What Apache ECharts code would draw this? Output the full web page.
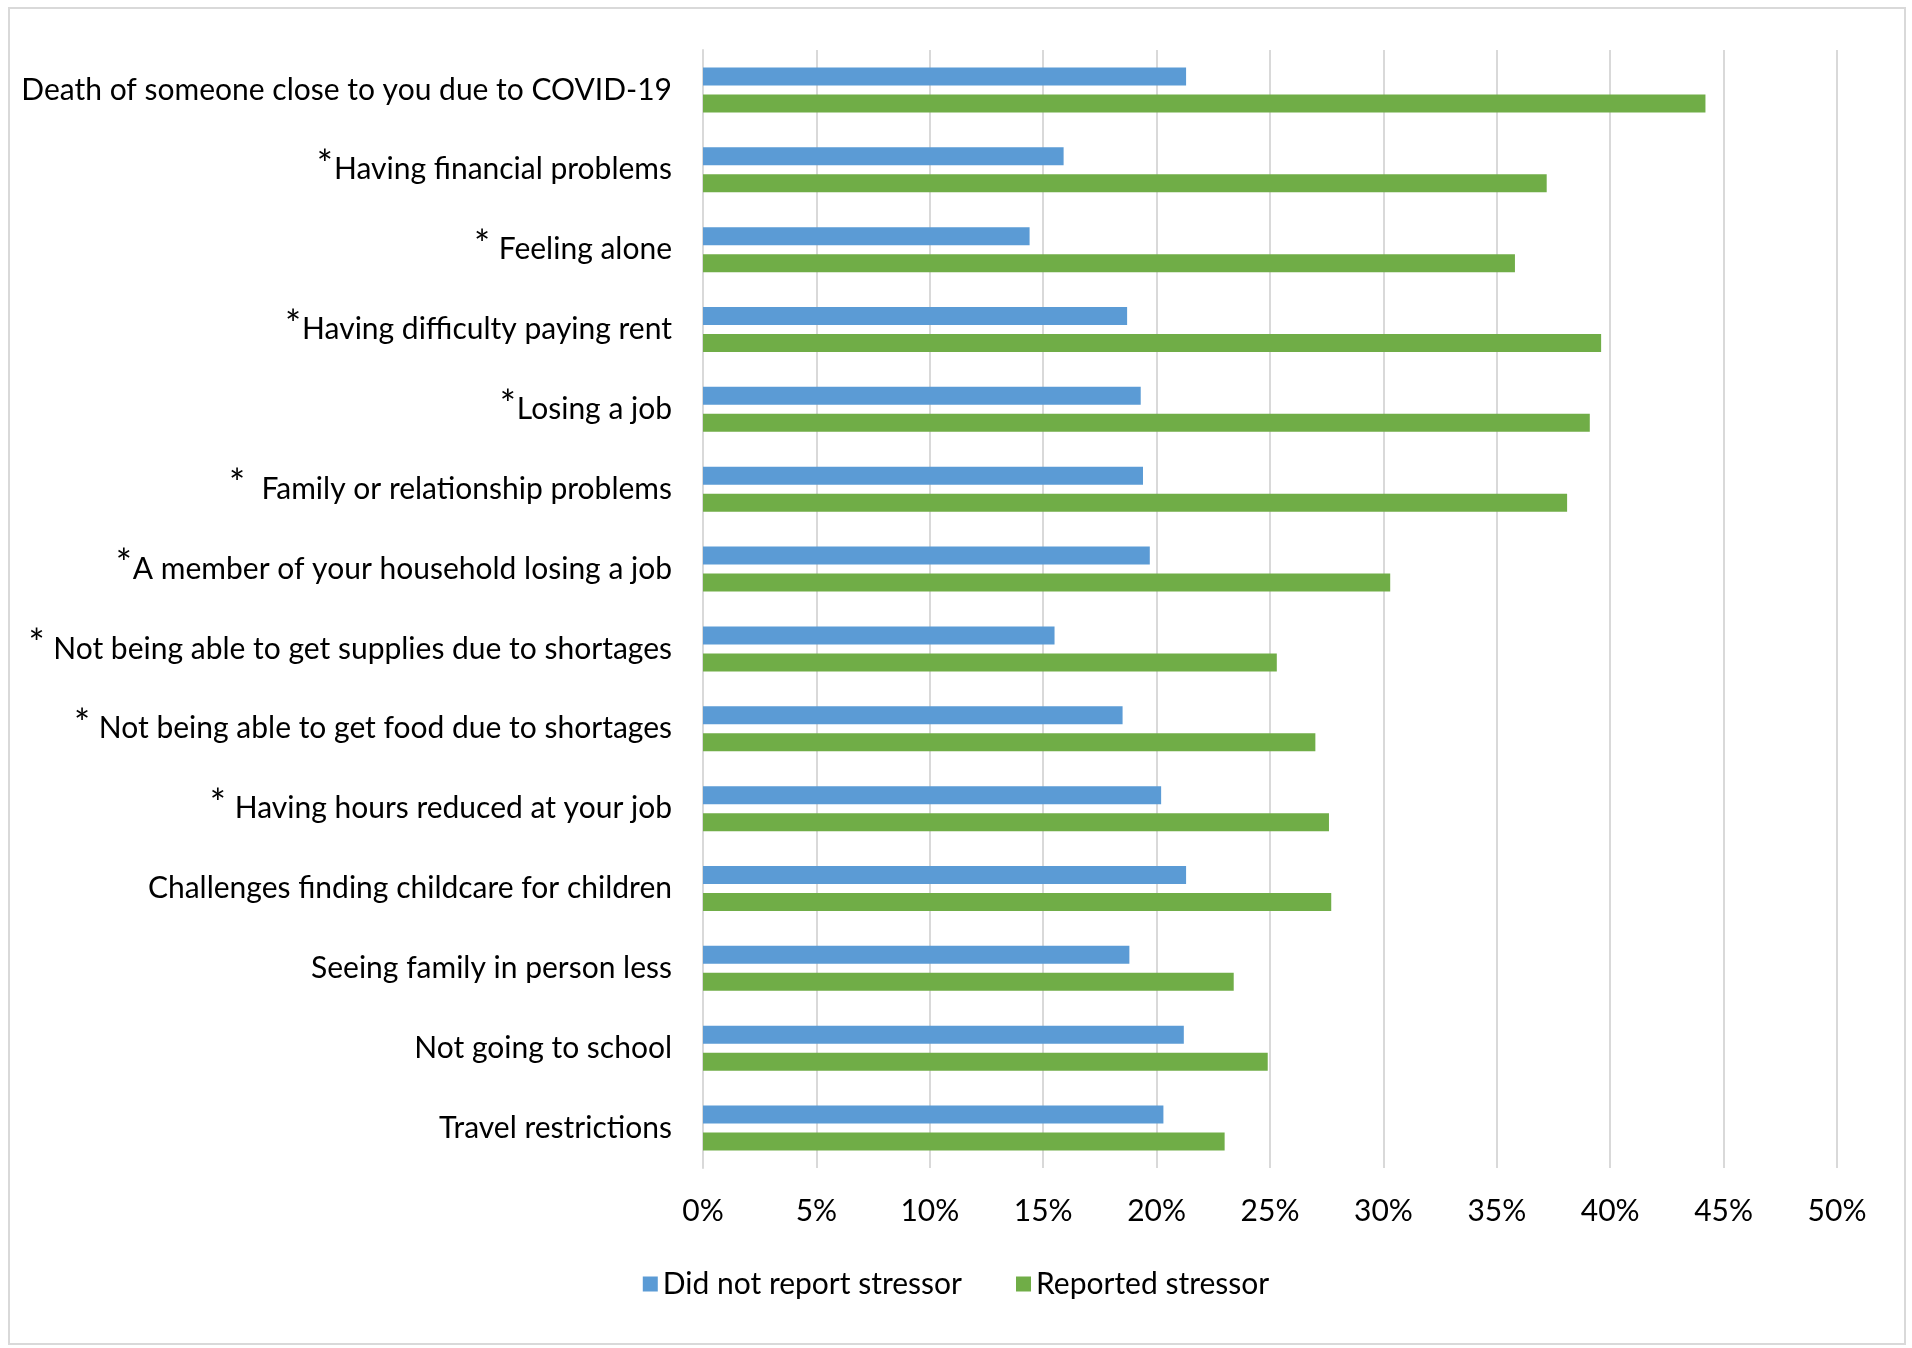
<!DOCTYPE html>
<html lang="en">
<head>
    <meta charset="UTF-8">
    <title>Stressors</title>
    <script src="https://cdn.jsdelivr.net/npm/echarts@6.0.0/dist/echarts.min.js"></script>
    <style>
        body { margin: 0; background: #fff; }
    </style>
</head>
<body>
    <div id="main" style="width: 1912px; height: 1348px;"></div>
    <script>
        const stressors = [
            'Death of someone close to you due to COVID-19',
            '*Having financial problems',
            '* Feeling alone',
            '*Having difficulty paying rent',
            '*Losing a job',
            '*  Family or relationship problems',
            '*A member of your household losing a job',
            '* Not being able to get supplies due to shortages',
            '* Not being able to get food due to shortages',
            '* Having hours reduced at your job',
            'Challenges finding childcare for children',
            'Seeing family in person less',
            'Not going to school',
            'Travel restrictions'
        ];
        const notReported = [21.3, 15.9, 14.4, 18.7, 19.3, 19.4, 19.7, 15.5, 18.5, 20.2, 21.3, 18.8, 21.2, 20.3];
        const reported = [44.2, 37.2, 35.8, 39.6, 39.1, 38.1, 30.3, 25.3, 27.0, 27.6, 27.7, 23.4, 24.9, 23.0];
        const seriesNames = ['Did not report stressor', 'Reported stressor'];

        const font = 'Lato';
        const fs = 30;
        const myChart = echarts.init(document.getElementById('main'));

        const options = {
            backgroundColor: '#fff',
            textStyle: { fontFamily: font },
            graphic: [{
                type: 'rect',
                shape: { x: 9, y: 8, width: 1896, height: 1336 },
                style: { fill: 'none', stroke: '#d9d9d9', lineWidth: 2 },
                silent: true
            }],
            legend: {
                bottom: 44,
                left: 'center',
                icon: 'rect',
                itemWidth: 15,
                itemHeight: 15,
                itemGap: 54,
                textStyle: { fontSize: fs, color: '#000', fontFamily: font },
                data: seriesNames
            },
            grid: {
                left: 703,
                right: 75,
                top: 50,
                bottom: 180,
                containLabel: false
            },
            xAxis: {
                type: 'value',
                min: 0,
                max: 50,
                interval: 5,
                axisLine: { show: false },
                axisTick: { show: false },
                splitLine: { lineStyle: { color: '#d9d9d9', width: 2 } },
                axisLabel: {
                    formatter: '{value}%',
                    fontSize: fs,
                    color: '#000',
                    margin: 28,
                    fontFamily: font
                }
            },
            yAxis: {
                type: 'category',
                inverse: true,
                data: stressors,
                axisTick: { show: false },
                axisLine: { lineStyle: { color: '#d9d9d9', width: 2 } },
                axisLabel: {
                    fontSize: fs,
                    color: '#000',
                    margin: 31,
                    fontFamily: font,
                    formatter: function (v) {
                        if (v.charAt(0) === '*') {
                            return '{s|*}{t|' + v.slice(1) + '}';
                        }
                        return '{t|' + v + '}';
                    },
                    rich: {
                        s: { fontSize: 38, color: '#000', fontFamily: font, padding: [0, 1, 8, 0] },
                        t: { fontSize: fs, color: '#000', fontFamily: font }
                    }
                }
            },
            series: [
                {
                    name: seriesNames[0],
                    type: 'bar',
                    data: notReported,
                    barWidth: 18,
                    barGap: '50%',
                    itemStyle: { color: '#5b9bd5' },
                    animation: false
                },
                {
                    name: seriesNames[1],
                    type: 'bar',
                    data: reported,
                    barWidth: 18,
                    barGap: '50%',
                    itemStyle: { color: '#70ad47' },
                    animation: false
                }
            ]
        };

        myChart.setOption(options);
    </script>
</body>
</html>
